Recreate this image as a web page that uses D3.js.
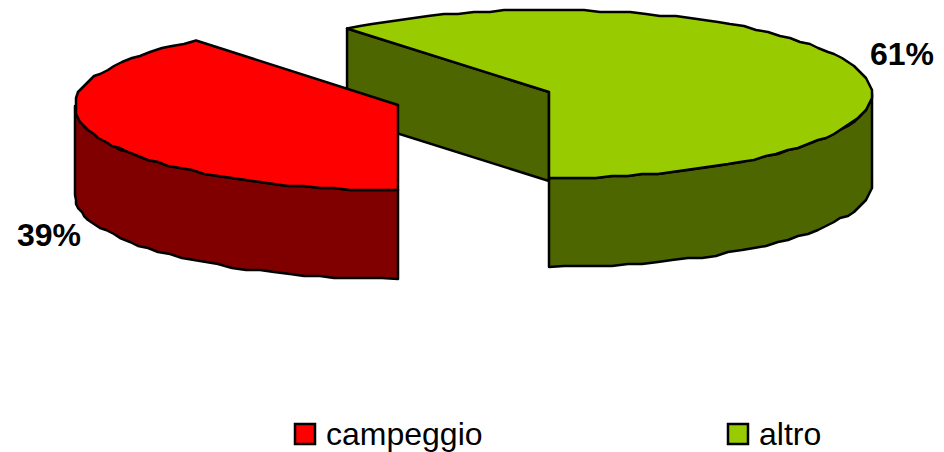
<!DOCTYPE html>
<head>
<meta charset="utf-8">
<title>campeggio / altro</title>
<script type="text/javascript" src="https://d3js.org/d3.v7.min.js"></script>
<style>
html, body { margin: 0; padding: 0; background: #fff; }
svg { display: block; }
text { font-family: "Liberation Sans", Arial, sans-serif; fill: #000; font-size: 32px; }
.pct { font-weight: bold; }
</style>
</head>

<body>
<div id="container"></div>
<script>
//-----------------------------DATA-----------------------------//
const categories = ["campeggio", "altro"];
// the labels round these to 39% and 61%
const values = [39.25, 60.75];

//----------------------------LAYOUT----------------------------//
const width = 944;
const height = 452;
const rx = 323;
const ry = 84;
const depth = 89;
const grid = 2; // the outline of the original is a slightly wobbly polygon
// each slice is pulled away from the pie, so each has its own centre
const apex = { campeggio: [398, 105], altro: [549, 92] };
const rimCentre = { campeggio: [398, 106], altro: [549, 94] };
const labelPos = { campeggio: [17, 246], altro: [870, 65] };
const legendX = { campeggio: 295, altro: 728 };
const legendY = 424;
const swatch = 20;

const topColour = d3.scaleOrdinal().domain(categories).range(["#ff0000", "#99cc00"]);
const sideColour = d3.scaleOrdinal().domain(categories).range(["#800000", "#4d6600"]);

const svg = d3.select("div#container").append("svg")
    .attr("width", width)
    .attr("height", height);

//-----------------------------PIE------------------------------//
// starts at the bottom of the ellipse and runs clockwise
const pie = d3.pie().sort(null).startAngle(Math.PI).endAngle(3 * Math.PI);
const slices = pie(values).map(function(d, i) {
    return { id: categories[i], value: d.value, a0: d.startAngle, a1: d.endAngle };
});

const line = d3.line();
const step = Math.PI / 64;

function rimPoint(d, a, dy) {
    const c = rimCentre[d.id];
    return [c[0] + rx * Math.sin(a), c[1] - ry * Math.cos(a) + dy];
}

function rim(d, a0, a1, dy) {
    const n = Math.max(1, Math.round((a1 - a0) / step));
    return d3.range(n + 1).map(function(i) {
        const p = rimPoint(d, a0 + (a1 - a0) * i / n, dy);
        if (i === 0 || i === n) return p;
        return [Math.round(p[0] / grid) * grid, Math.round(p[1] / grid) * grid];
    });
}

// front part of the rim, the only part of the outer wall that shows
function frontWall(d) {
    let a0 = null, a1 = null;
    [[Math.PI / 2, 3 * Math.PI / 2], [5 * Math.PI / 2, 7 * Math.PI / 2]].forEach(function(r) {
        const lo = Math.max(r[0], d.a0), hi = Math.min(r[1], d.a1);
        if (lo < hi) { a0 = lo; a1 = hi; }
    });
    const upper = rim(d, a0, a1, 0);
    const lower = rim(d, a0, a1, depth).reverse();
    return line(upper.concat(lower)) + "Z";
}

function topFace(d) {
    return line([apex[d.id]].concat(rim(d, d.a0, d.a1, 0))) + "Z";
}

// cut face of altro, from the centre to the start of the slice
function cutFace(d) {
    const c = apex[d.id];
    const p = rimPoint(d, d.a0, 0);
    return line([c, p, [p[0], p[1] + depth], [c[0], c[1] + depth]]) + "Z";
}

// altro goes first, the red slice sits in front of it
const groups = svg.selectAll("g.slice")
    .data(slices.slice().reverse())
    .enter()
    .append("g")
    .attr("class", "slice")
    .attr("stroke", "#000")
    .attr("stroke-width", 2.5)
    .attr("stroke-linejoin", "round");

groups.filter(function(d) { return d.id === "altro"; })
    .append("path")
    .attr("d", cutFace)
    .attr("fill", function(d) { return sideColour(d.id); });

groups.append("path")
    .attr("d", frontWall)
    .attr("fill", function(d) { return sideColour(d.id); });

groups.append("path")
    .attr("d", topFace)
    .attr("fill", function(d) { return topColour(d.id); });

//----------------------------LABELS----------------------------//
svg.selectAll("text.pct")
    .data(slices)
    .enter()
    .append("text")
    .attr("class", "pct")
    .attr("x", function(d) { return labelPos[d.id][0]; })
    .attr("y", function(d) { return labelPos[d.id][1]; })
    .text(function(d) { return Math.round(d.value) + "%"; });

//----------------------------LEGEND----------------------------//
const legend = svg.selectAll("g.legend")
    .data(categories)
    .enter()
    .append("g")
    .attr("class", "legend")
    .attr("transform", function(d) { return "translate(" + legendX[d] + "," + legendY + ")"; });

legend.append("rect")
    .attr("width", swatch)
    .attr("height", swatch)
    .attr("fill", function(d) { return topColour(d); })
    .attr("stroke", "#000")
    .attr("stroke-width", 2.5);

legend.append("text")
    .attr("x", swatch + 11)
    .attr("y", swatch + 1)
    .text(function(d) { return d; });
</script>
</body>
